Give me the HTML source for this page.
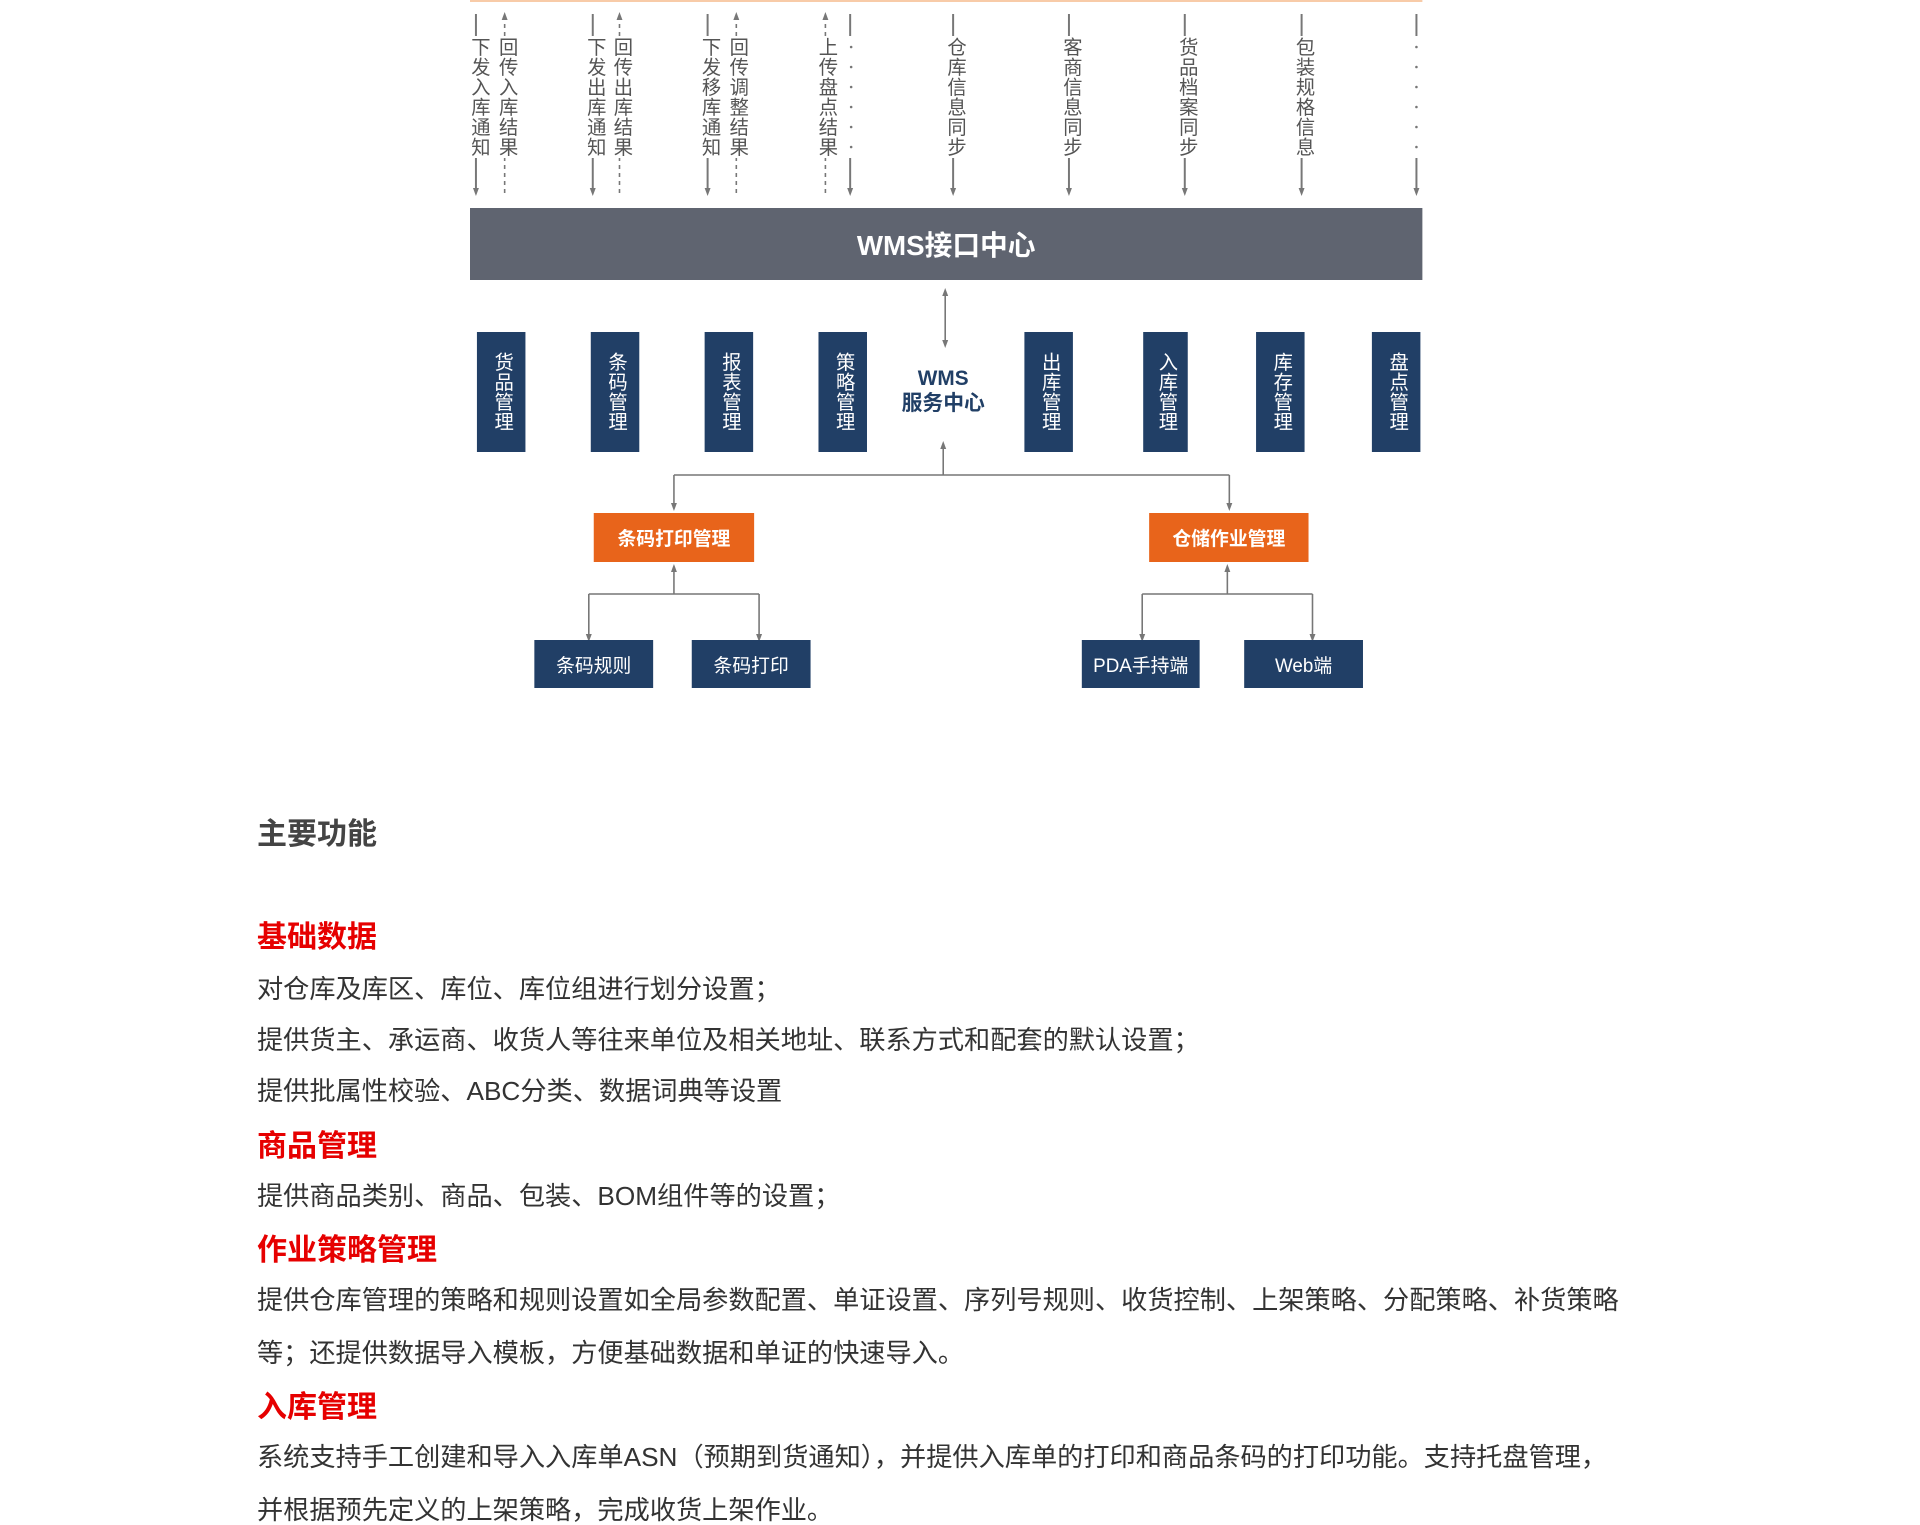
<!DOCTYPE html>
<html><head><meta charset="utf-8"><style>
*{margin:0;padding:0;box-sizing:border-box}
body{width:1920px;height:1519px;background:#fff;position:relative;overflow:hidden;font-family:"Liberation Sans","Noto Sans CJK SC",sans-serif}
#d{position:absolute;left:0;top:0;width:1920px;height:720px;transform:scaleX(0.99);transform-origin:470px 0}
.v{position:absolute;writing-mode:vertical-rl;font-size:19.5px;line-height:19px;color:#555;letter-spacing:0.5px;transform:translateX(-50%)}
.bb{position:absolute;background:#213f66;top:332px;height:120px}
.bb span{position:absolute;left:50%;top:20px;transform:translateX(-50%);writing-mode:vertical-rl;color:#fff;font-size:19.5px;line-height:19px;letter-spacing:0.3px}
.ob{position:absolute;background:#e8641b;color:#fff;font-weight:bold;font-size:19px;display:flex;align-items:center;justify-content:center;top:513px;height:49px}
.lb{position:absolute;background:#213f66;color:#fff;font-size:19px;display:flex;align-items:center;justify-content:center;top:640px;height:48px}
.t{position:absolute;left:257px;font-size:26.2px;color:#333;white-space:nowrap;line-height:30px}
.h{position:absolute;left:257px;font-size:30px;font-weight:bold;color:#e60000;white-space:nowrap;line-height:34px}
</style></head><body>
<div id="d">
<svg width="1920" height="720" style="position:absolute;left:0;top:0">
<defs>
<marker id="a" markerWidth="8" markerHeight="8" refX="4" refY="4" orient="auto" markerUnits="userSpaceOnUse"><path d="M0,1 L8,4 L0,7 Z" fill="#777"/></marker>
</defs>
<line x1="470" y1="1" x2="1432" y2="1" stroke="#f8cba8" stroke-width="2"/>
<g stroke="#777" stroke-width="2" fill="none">
<path d="M476 14V36M476 158V192" marker-end="url(#a)"/>
<path d="M594 14V36M594 158V192" marker-end="url(#a)"/>
<path d="M710 14V36M710 158V192" marker-end="url(#a)"/>
<path d="M854 14V36M854 158V192" marker-end="url(#a)"/>
<path d="M958 14V36M958 158V192" marker-end="url(#a)"/>
<path d="M1075 14V36M1075 158V192" marker-end="url(#a)"/>
<path d="M1192 14V36M1192 158V192" marker-end="url(#a)"/>
<path d="M1310 14V36M1310 158V192" marker-end="url(#a)"/>
<path d="M1426 14V36M1426 158V192" marker-end="url(#a)"/>
</g>
<g stroke="#777" stroke-width="1.6" fill="none" stroke-dasharray="4,4">
<path d="M505 193V158M505 36V16" marker-end="url(#a)"/>
<path d="M621 193V158M621 36V16" marker-end="url(#a)"/>
<path d="M739 193V158M739 36V16" marker-end="url(#a)"/>
<path d="M829 193V158M829 36V16" marker-end="url(#a)"/>
</g>
<g fill="#777">
<circle cx="855" cy="47" r="1.3"/><circle cx="855" cy="67" r="1.3"/><circle cx="855" cy="87" r="1.3"/><circle cx="855" cy="107" r="1.3"/><circle cx="855" cy="127" r="1.3"/><circle cx="855" cy="147" r="1.3"/>
<circle cx="1426" cy="47" r="1.3"/><circle cx="1426" cy="67" r="1.3"/><circle cx="1426" cy="87" r="1.3"/><circle cx="1426" cy="107" r="1.3"/><circle cx="1426" cy="127" r="1.3"/><circle cx="1426" cy="147" r="1.3"/>
</g>
<rect x="470" y="208" width="962" height="72" fill="#5f6470"/>
<g stroke="#777" stroke-width="1.6" fill="none">
<path d="M950 318V344" marker-end="url(#a)"/>
<path d="M950 318V292" marker-end="url(#a)"/>
<path d="M948 475V445" marker-end="url(#a)"/>
<path d="M676 475H1237"/>
<path d="M676 475V507" marker-end="url(#a)"/>
<path d="M1237 475V507" marker-end="url(#a)"/>
<path d="M676 594V568" marker-end="url(#a)"/>
<path d="M590 594H762"/>
<path d="M590 594V638" marker-end="url(#a)"/>
<path d="M762 594V638" marker-end="url(#a)"/>
<path d="M1235 594V568" marker-end="url(#a)"/>
<path d="M1149 594H1321"/>
<path d="M1149 594V638" marker-end="url(#a)"/>
<path d="M1321 594V638" marker-end="url(#a)"/>
</g>
</svg>
<div class="v" style="left:478px;top:37px">下发入库通知</div>
<div class="v" style="left:506px;top:37px">回传入库结果</div>
<div class="v" style="left:595px;top:37px">下发出库通知</div>
<div class="v" style="left:622px;top:37px">回传出库结果</div>
<div class="v" style="left:711px;top:37px">下发移库通知</div>
<div class="v" style="left:739px;top:37px">回传调整结果</div>
<div class="v" style="left:829px;top:37px">上传盘点结果</div>
<div class="v" style="left:959px;top:37px">仓库信息同步</div>
<div class="v" style="left:1076px;top:37px">客商信息同步</div>
<div class="v" style="left:1193px;top:37px">货品档案同步</div>
<div class="v" style="left:1311px;top:37px">包装规格信息</div>
<div style="position:absolute;left:470px;width:962px;top:208px;height:72px;display:flex;align-items:center;justify-content:center;color:#fff;font-weight:bold;font-size:28px">WMS接口中心</div>
<div class="bb" style="left:477px;width:49px"><span>货品管理</span></div>
<div class="bb" style="left:592px;width:49px"><span>条码管理</span></div>
<div class="bb" style="left:707px;width:49px"><span>报表管理</span></div>
<div class="bb" style="left:822px;width:49px"><span>策略管理</span></div>
<div class="bb" style="left:1030px;width:49px"><span>出库管理</span></div>
<div class="bb" style="left:1150px;width:45px"><span>入库管理</span></div>
<div class="bb" style="left:1264px;width:49px"><span>库存管理</span></div>
<div class="bb" style="left:1381px;width:49px"><span>盘点管理</span></div>
<div style="position:absolute;left:898px;width:100px;top:366px;text-align:center;color:#213f66;font-weight:bold;font-size:21px;line-height:25px">WMS<br>服务中心</div>
<div class="ob" style="left:595px;width:162px">条码打印管理</div>
<div class="ob" style="left:1156px;width:161px">仓储作业管理</div>
<div class="lb" style="left:535px;width:120px">条码规则</div>
<div class="lb" style="left:694px;width:120px">条码打印</div>
<div class="lb" style="left:1088px;width:119px">PDA手持端</div>
<div class="lb" style="left:1252px;width:120px">Web端</div>
</div>
<div class="h" style="top:818px;color:#444">主要功能</div>
<div class="h" style="top:921px">基础数据</div>
<div class="t" style="top:974px">对仓库及库区、库位、库位组进行划分设置；</div>
<div class="t" style="top:1025px">提供货主、承运商、收货人等往来单位及相关地址、联系方式和配套的默认设置；</div>
<div class="t" style="top:1076px">提供批属性校验、ABC分类、数据词典等设置</div>
<div class="h" style="top:1130px">商品管理</div>
<div class="t" style="top:1181px">提供商品类别、商品、包装、BOM组件等的设置；</div>
<div class="h" style="top:1234px">作业策略管理</div>
<div class="t" style="top:1285px">提供仓库管理的策略和规则设置如全局参数配置、单证设置、序列号规则、收货控制、上架策略、分配策略、补货策略</div>
<div class="t" style="top:1338px">等；还提供数据导入模板，方便基础数据和单证的快速导入。</div>
<div class="h" style="top:1391px">入库管理</div>
<div class="t" style="top:1442px">系统支持手工创建和导入入库单ASN（预期到货通知），并提供入库单的打印和商品条码的打印功能。支持托盘管理，</div>
<div class="t" style="top:1495px">并根据预先定义的上架策略，完成收货上架作业。</div>
</body></html>
